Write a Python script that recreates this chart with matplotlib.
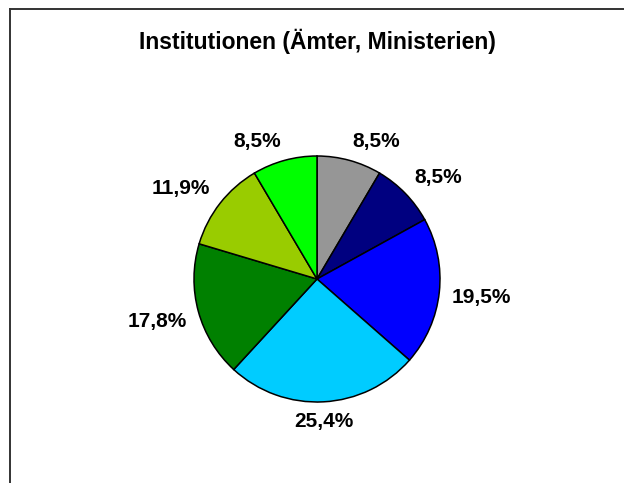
"""
Pie chart: Institutionen (Ämter, Ministerien)
"""

import numpy as np
import matplotlib

matplotlib.use("Agg")
import matplotlib.pyplot as plt
from matplotlib.lines import Line2D

plt.rcParams["font.family"] = ["Liberation Sans", "DejaVu Sans"]

# Data, clockwise from 12 o'clock
shares = [8.5, 8.5, 19.5, 25.4, 17.8, 11.9, 8.5]
labels = ["8,5%", "8,5%", "19,5%", "25,4%", "17,8%", "11,9%", "8,5%"]
colors = ["#969696", "#000080", "#0000FF", "#00CCFF", "#008000", "#99CC00", "#00FF00"]
title = "Institutionen (Ämter, Ministerien)"

W, H = 624, 483
R_PX = 123.0
fig = plt.figure(figsize=(W / 100, H / 100), dpi=100)

# pie: centre at (317, 279) px from top-left
cx, cy, half = 317, 279, 200
ax = fig.add_axes([(cx - half) / W, (H - cy - half) / H, 2 * half / W, 2 * half / H])
lim = half / R_PX

wedges, _ = ax.pie(
    shares,
    colors=colors,
    startangle=90,
    counterclock=False,
    radius=1.0,
    wedgeprops=dict(edgecolor="black", linewidth=1.1),
)
ax.set_xlim(-lim, lim)
ax.set_ylim(-lim, lim)
ax.set_aspect("equal")
ax.axis("off")


def side(c):
    # how far the label box is pushed to one side (Excel-like placement)
    if abs(c) < 0.1:
        return 0.0
    return float(np.clip(5 * c, -1, 1))


# labels: anchor just outside the rim, box pushed away from the pie
fig.canvas.draw()
renderer = fig.canvas.get_renderer()
for w, lab in zip(wedges, labels):
    ang = np.deg2rad((w.theta1 + w.theta2) / 2)
    t = ax.text(0, 0, lab, ha="center", va="center", fontsize=15, fontweight="bold")
    bb = t.get_window_extent(renderer)
    hw = bb.width / 2 / R_PX
    hh = bb.height / 2 / R_PX * 0.75
    x = 1.1 * np.cos(ang) + hw * side(np.cos(ang))
    y = 1.1 * np.sin(ang) + hh * side(np.sin(ang))
    t.set_position((x, y))

fig.text(cx / W, 1 - 41 / H, title, ha="center", va="center",
         fontsize=16.5, fontweight="bold")

# chart frame (only left and top edges are inside the picture)
fx, fy = 10 / W, 1 - 9 / H
fig.add_artist(Line2D([fx, fx], [fy, -0.1], color="#333333", linewidth=1.4,
                      transform=fig.transFigure))
fig.add_artist(Line2D([fx, 1.1], [fy, fy], color="#333333", linewidth=1.4,
                      transform=fig.transFigure))

fig.savefig("out.png", dpi=100)
